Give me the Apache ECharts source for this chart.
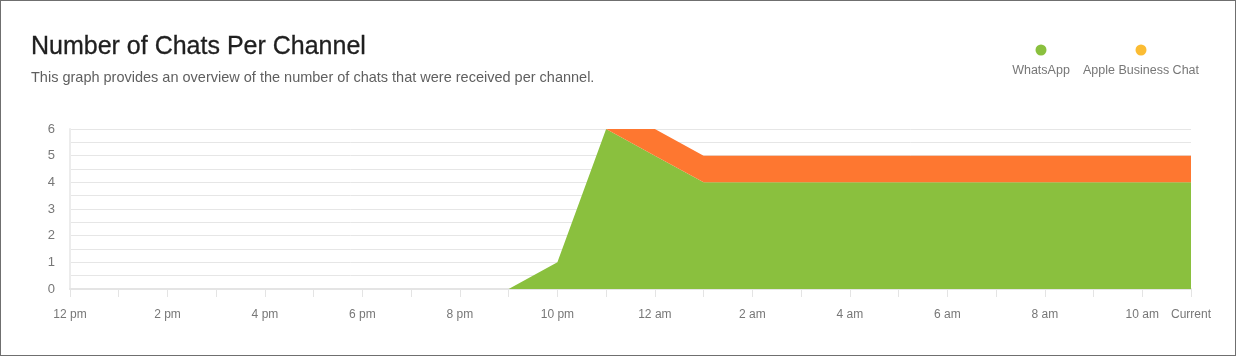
<!DOCTYPE html>
<html>
<head>
<meta charset="utf-8">
<script src="https://cdn.jsdelivr.net/npm/echarts@6/dist/echarts.min.js"></script>
<style>
  html, body { margin: 0; padding: 0; background: #fff; }
  #frame { position: absolute; left: 0; top: 0; width: 1234px; height: 354px; border: 1px solid #6f6f6f; }
  #chart { position: absolute; left: -1px; top: -1px; width: 1237px; height: 357px; }
</style>
</head>
<body>
<div id="frame"><div id="chart"></div></div>
<script>
const categories = ['12 pm','1 pm','2 pm','3 pm','4 pm','5 pm','6 pm','7 pm','8 pm','9 pm','10 pm','11 pm',
  '12 am','1 am','2 am','3 am','4 am','5 am','6 am','7 am','8 am','9 am','10 am','Current'];
const whatsApp = [0,0,0,0,0,0,0,0,0,0,1,6,5,4,4,4,4,4,4,4,4,4,4,4];
const appleBusinessChat = [0,0,0,0,0,0,0,0,0,0,0,0,1,1,1,1,1,1,1,1,1,1,1,1];
const seriesNames = ['WhatsApp','Apple Business Chat'];
const areaColors = ['#8ac03e','#fe7730'];
const legendColors = ['#8ac03e','#fbbc33'];
const yTicks = [0,1,2,3,4,5,6];

const chart = echarts.init(document.getElementById('chart'));
chart.setOption({
  animation: false,
  title: {
    text: 'Number of Chats Per Channel',
    subtext: 'This graph provides an overview of the number of chats that were received per channel.',
    left: 26, top: 30, itemGap: 10,
    textStyle: { fontFamily: 'Liberation Sans', fontSize: 25, fontWeight: 'normal', color: '#1f1f1f', textBorderColor: '#1f1f1f', textBorderWidth: 0.3 },
    subtextStyle: { fontFamily: 'Liberation Sans', fontSize: 14.5, color: '#5f5f5f' }
  },
  graphic: [
    { type: 'circle', shape: { cx: 1041, cy: 50, r: 5.5 }, style: { fill: legendColors[0] } },
    { type: 'text', x: 1041, y: 71, style: { text: seriesNames[0], fill: '#777', font: '12.5px "Liberation Sans"', align: 'center', verticalAlign: 'middle' } },
    { type: 'circle', shape: { cx: 1141, cy: 50, r: 5.5 }, style: { fill: legendColors[1] } },
    { type: 'text', x: 1141, y: 71, style: { text: seriesNames[1], fill: '#777', font: '12.5px "Liberation Sans"', align: 'center', verticalAlign: 'middle' } }
  ],
  grid: { left: 70, right: 46, top: 129, bottom: 68 },
  xAxis: {
    type: 'category', data: categories, boundaryGap: false,
    axisLine: { lineStyle: { color: '#e4e4e4', width: 2 } },
    axisTick: { show: true, length: 8, interval: 0, lineStyle: { color: '#e4e4e4' } },
    axisLabel: {
      interval: (i) => i % 2 === 0 || i === categories.length - 1,
      color: '#777', fontFamily: 'Liberation Sans', fontSize: 12, margin: 20
    },
    splitLine: { show: false }
  },
  yAxis: {
    type: 'value', min: 0, max: 6, interval: 0.5,
    axisLine: { show: true, lineStyle: { color: '#ececec', width: 2 } },
    axisTick: { show: false },
    axisLabel: {
      formatter: (v) => (yTicks.indexOf(v) >= 0 ? String(v) : ''),
      color: '#777', fontFamily: 'Liberation Sans', fontSize: 13, margin: 15
    },
    splitLine: { lineStyle: { color: '#e6e6e6', width: 1 } }
  },
  series: [
    { name: seriesNames[0], type: 'line', stack: 'total', data: whatsApp, symbol: 'none',
      lineStyle: { width: 0 }, areaStyle: { color: areaColors[0], opacity: 1 }, itemStyle: { color: areaColors[0] } },
    { name: seriesNames[1], type: 'line', stack: 'total', data: appleBusinessChat, symbol: 'none',
      lineStyle: { width: 0 }, areaStyle: { color: areaColors[1], opacity: 1 }, itemStyle: { color: areaColors[1] } }
  ]
});
</script>
</body>
</html>
